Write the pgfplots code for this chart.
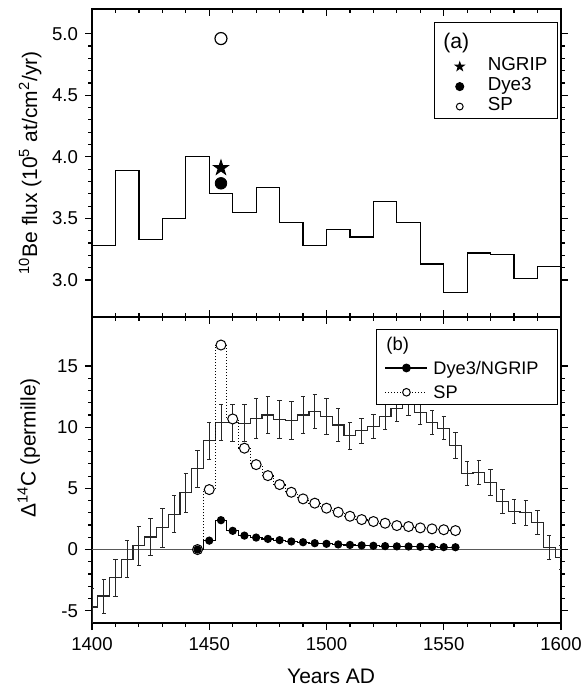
\documentclass[border=0pt]{standalone}
\usepackage{fontspec}
\setmainfont{Liberation Sans}
\usepackage{pgfplots}
\pgfplotsset{compat=1.18}

% filled five-pointed star
\pgfdeclareplotmark{fstar}{%
  \pgfpathmoveto{\pgfpointpolar{90}{\pgfplotmarksize}}%
  \pgfpathlineto{\pgfpointpolar{126}{0.382\pgfplotmarksize}}%
  \pgfpathlineto{\pgfpointpolar{162}{\pgfplotmarksize}}%
  \pgfpathlineto{\pgfpointpolar{198}{0.382\pgfplotmarksize}}%
  \pgfpathlineto{\pgfpointpolar{234}{\pgfplotmarksize}}%
  \pgfpathlineto{\pgfpointpolar{270}{0.382\pgfplotmarksize}}%
  \pgfpathlineto{\pgfpointpolar{306}{\pgfplotmarksize}}%
  \pgfpathlineto{\pgfpointpolar{342}{0.382\pgfplotmarksize}}%
  \pgfpathlineto{\pgfpointpolar{18}{\pgfplotmarksize}}%
  \pgfpathlineto{\pgfpointpolar{54}{0.382\pgfplotmarksize}}%
  \pgfpathclose
  \pgfusepathqfillstroke}

% row struts for the legends
\newcommand\rowa{\rule[-3pt]{0pt}{10pt}}
\newcommand\rowb{\rule[-3pt]{0pt}{12.15pt}}

\pgfplotsset{
  panel/.style={
    scale only axis, width=234.5pt, xmin=1400, xmax=1600,
    axis line style={line width=0.65pt},
    every tick/.style={black, line width=0.6pt},
    major tick length=3.5pt, minor tick length=1.8pt,
    xtick distance=50, minor x tick num=4, minor y tick num=4,
    ytick align=outside,
    tick label style={font=\fontsize{9.3}{11}\selectfont},
    label style={font=\fontsize{10.5}{12}\selectfont},
    /pgf/number format/assume math mode=true,
    /pgf/number format/1000 sep={},
    legend cell align=left,
    legend style={draw=black, line width=0.7pt, fill=white,
      font=\fontsize{9.4}{10}\selectfont, inner xsep=3pt,
      nodes={inner xsep=2pt, inner ysep=0pt, text height=, text depth=}},
  },
  % legend image: mark only, 9.5pt into a 21.5pt wide cell
  marklegend/.style={legend image code/.code={%
    \path[draw=none, fill=none] (0pt,-2pt) rectangle (21.5pt,2pt);
    \draw[mark repeat=2, mark phase=2, ##1] plot coordinates {(0pt,0pt) (9.5pt,0pt) (19pt,0pt)};}},
  % legend image: 21pt line with the mark in its middle
  linelegend/.style={legend image code/.code={%
    \path[draw=none, fill=none] (0pt,-2pt) rectangle (23.6pt,2pt);
    \draw[mark repeat=2, mark phase=2, ##1] plot coordinates {(1.6pt,0pt) (12.1pt,0pt) (22.6pt,0pt)};}},
}

\pgfplotstableread{
x     y      e
1400 -4.70  1.5
1405 -3.80  1.4
1410 -2.29  1.5
1415 -0.78  1.5
1420  0.30  1.6
1425  1.02  1.5
1430  1.80  1.6
1435  2.89  1.5
1440  4.63  1.6
1445  6.60  1.5
1450  8.90  1.5
1455 10.40  1.45
1460 10.36  1.5
1465 10.32  1.5
1470 10.72  1.6
1475 11.00  1.5
1480 10.62  1.55
1485 10.53  1.55
1490 11.00  1.55
1495 11.30  1.4
1500 10.89  1.5
1505 10.18  1.35
1510  9.31  1.1
1515  9.70  1.05
1520 10.08  1.0
1525 10.89  1.05
1530 11.55  1.05
1535 12.00  1.05
1540 11.20  1.0
1545 10.40  1.0
1550  9.91  0.95
1555  8.49  1.05
1560  6.24  1.0
1565  6.31  1.0
1570  5.50  1.05
1575  3.92  1.0
1580  3.13  1.0
1585  3.00  1.0
1590  2.24  1.0
1595  0.17  0.95
1600 -0.63  1.0
}\dcfourteen

\begin{document}
\begin{tikzpicture}[x=1pt,y=1pt]
\path[use as bounding box] (0,0) rectangle (292,346);

% ---- (a) 10Be flux ----
\begin{axis}[panel, name=top, at={(46pt,187.5pt)}, anchor=south west,
    height=154pt, ymin=2.7, ymax=5.2,
    ytick={3.0,3.5,4.0,4.5,5.0},
    yticklabel style={/pgf/number format/.cd, fixed, fixed zerofill, precision=1},
    xticklabels={}, xtick align=inside,
    ylabel={\textsuperscript{10}Be flux (10\textsuperscript{5} at/cm\textsuperscript{2}/yr)},
    ylabel style={at={(axis description cs:-0.132,0.5)}, anchor=center},
    legend style={at={(0.9936,0.9588)}, anchor=north east, inner ysep=1.1pt}]
\addplot[const plot, black, line width=0.6pt, forget plot] coordinates {
  (1400,3.28) (1410,3.89) (1420,3.33) (1430,3.50) (1440,4.00)
  (1450,3.70) (1460,3.55) (1470,3.75) (1480,3.47) (1490,3.28)
  (1500,3.41) (1510,3.35) (1520,3.64) (1530,3.47) (1540,3.13)
  (1550,2.90) (1560,3.22) (1570,3.21) (1580,3.01) (1590,3.11) (1600,3.11)};
\addplot[only marks, black, mark=fstar, mark size=4pt, forget plot] coordinates {(1455,3.91)};
\addplot[only marks, black, mark=*, mark size=2.9pt, forget plot] coordinates {(1455,3.785)};
\addplot[only marks, black, mark=*, mark size=3pt, mark options={fill=white, line width=0.6pt}, forget plot] coordinates {(1455,4.96)};
\addlegendimage{empty legend}
\addlegendentry{\rule[-3pt]{0pt}{16pt}}
\addlegendimage{marklegend, only marks, black, mark=fstar, mark size=1.9pt}
\addlegendentry{\rowa NGRIP}
\addlegendimage{marklegend, only marks, black, mark=*, mark size=1.9pt}
\addlegendentry{\rowa Dye3}
\addlegendimage{marklegend, only marks, black, mark=*, mark size=1.7pt, mark options={fill=white, line width=0.5pt}}
\addlegendentry{\rowa SP}
\end{axis}

% ---- (b) Delta 14C ----
\begin{axis}[panel, name=bot, at={(46pt,34.5pt)}, anchor=south west,
    height=153pt, ymin=-6, ymax=19,
    ytick={-5,0,5,10,15},
    xtick align=outside, xtick pos=bottom,
    xlabel={Years AD},
    xlabel style={at={(axis description cs:0.51,-0.176)}, anchor=center},
    ylabel={Δ\textsuperscript{14}C (permille)},
    ylabel style={at={(axis description cs:-0.135,0.572)}, anchor=center},
    legend style={at={(0.9943,0.961)}, anchor=north east, inner ysep=0pt,
      font=\fontsize{9.1}{10}\selectfont}]
\addplot[gray!70!black, line width=0.7pt, forget plot] coordinates {(1400,0) (1600,0)};
\addplot[const plot mark mid, black!85, line width=0.6pt, forget plot,
    error bars/.cd, y dir=both, y explicit,
    error bar style={line width=0.45pt, black!85},
    error mark options={rotate=90, mark size=1.1pt, line width=0.4pt, black!85}]
  table[x=x, y=y, y error=e] {\dcfourteen};
\addplot[const plot mark mid, black, densely dotted, line width=0.5pt,
    mark=*, mark size=2.5pt, mark options={solid, fill=white, line width=0.5pt}, forget plot]
  coordinates {
  (1445,0) (1450,4.90) (1455,16.71) (1460,10.67) (1465,8.28) (1470,6.94)
  (1475,6.04) (1480,5.31) (1485,4.68) (1490,4.14) (1495,3.79) (1500,3.38)
  (1505,3.05) (1510,2.72) (1515,2.45) (1520,2.29) (1525,2.15) (1530,1.96)
  (1535,1.88) (1540,1.77) (1545,1.69) (1550,1.62) (1555,1.55)};
\addplot[const plot mark mid, black, line width=0.6pt,
    mark=*, mark size=1.75pt, forget plot]
  coordinates {
  (1445,0) (1450,0.73) (1455,2.40) (1460,1.53) (1465,1.14) (1470,0.98)
  (1475,0.87) (1480,0.77) (1485,0.66) (1490,0.60) (1495,0.52) (1500,0.47)
  (1505,0.42) (1510,0.38) (1515,0.34) (1520,0.31) (1525,0.28) (1530,0.26)
  (1535,0.25) (1540,0.23) (1545,0.22) (1550,0.20) (1555,0.19)};
\addlegendimage{empty legend}
\addlegendentry{\rule[-3pt]{0pt}{13.1pt}}
\addlegendimage{linelegend, black, line width=0.6pt, mark=*, mark size=1.9pt}
\addlegendentry{\rowb Dye3/NGRIP\hspace*{4.5pt}}
\addlegendimage{linelegend, black, densely dotted, line width=0.5pt, mark=*, mark size=1.9pt, mark options={solid, fill=white}}
\addlegendentry{\rowb SP}
\end{axis}

% inward ticks on the top edge of panel (b)
\begin{axis}[panel, at={(46pt,34.5pt)}, anchor=south west,
    height=153pt, ymin=0, ymax=1,
    axis x line*=top, axis y line=none,
    xtick align=inside, xticklabels={}]
\end{axis}

% panel letters inside the legend boxes
\node[anchor=base west, inner sep=0pt, font=\fontsize{10.6}{12}\selectfont] at (221.5,321.8) {(a)};
\node[anchor=base west, inner sep=0pt, font=\fontsize{9.2}{11}\selectfont] at (193,170.9) {(b)};
\end{tikzpicture}
\end{document}
